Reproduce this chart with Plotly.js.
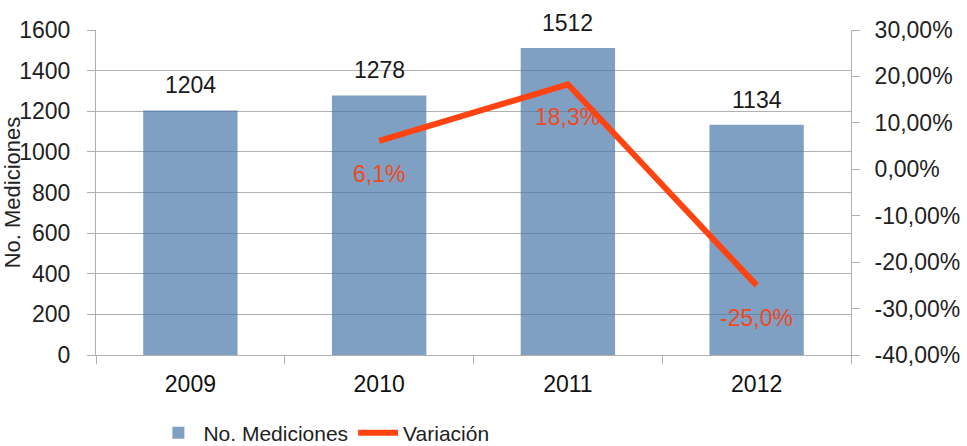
<!DOCTYPE html>
<html>
<head>
<meta charset="utf-8">
<script src="https://cdn.plot.ly/plotly-3.0.1.min.js"></script>
<style>html,body{margin:0;padding:0;background:#fff;}#chart{width:967px;height:446px;}</style>
</head>
<body>
<div id="chart"></div>
<script>
var years = ['2009', '2010', '2011', '2012'];
var mediciones = [1204, 1278, 1512, 1134];
var variacion = [null, 6.1, 18.3, -25.0];
var leftTicks = [0, 200, 400, 600, 800, 1000, 1200, 1400, 1600];
var rightTicks = [30, 20, 10, 0, -10, -20, -30, -40];
var rightTickText = ['30,00%', '20,00%', '10,00%', '0,00%', '-10,00%', '-20,00%', '-30,00%', '-40,00%'];

var FONT = 'Liberation Sans, Arial, sans-serif';

var barTrace = {
  type: 'bar',
  name: 'No. Mediciones',
  x: years,
  y: mediciones,
  marker: {color: 'rgba(72,118,169,0.7)', line: {width: 0}},
  hoverinfo: 'x+y'
};
var lineTrace = {
  type: 'scatter',
  mode: 'lines',
  name: 'Variación',
  x: years,
  y: variacion,
  yaxis: 'y2',
  line: {color: '#FF4412', width: 6},
  connectgaps: false
};

var annotations = [];
years.forEach(function (yr, i) {
  annotations.push({
    x: i, y: mediciones[i], xref: 'x', yref: 'y',
    text: String(mediciones[i]), showarrow: false,
    yanchor: 'middle', yshift: 25,
    font: {family: FONT, size: 23, color: '#1a1a1a'}
  });
  if (variacion[i] !== null) {
    annotations.push({
      x: i, y: variacion[i], xref: 'x', yref: 'y2',
      text: variacion[i].toFixed(1).replace('.', ',') + '%', showarrow: false,
      yanchor: 'middle', yshift: -33,
      font: {family: FONT, size: 23, color: '#F04A1C'}
    });
  }
});

var layout = {
  width: 967, height: 446,
  margin: {l: 96, r: 116, t: 30, b: 91, autoexpand: false},
  paper_bgcolor: '#fff', plot_bgcolor: '#fff',
  font: {family: FONT, size: 22, color: '#222'},
  bargap: 0.5,
  showlegend: true,
  legend: {orientation: 'h', x: 0.076, xanchor: 'left', y: -0.24, yanchor: 'middle',
           font: {family: FONT, size: 21, color: '#222'}, itemwidth: 40, tracegroupgap: 0},
  xaxis: {
    type: 'category', categoryarray: years, range: [-0.5, years.length - 0.5], autorange: false,
    automargin: false,
    tickson: 'boundaries', ticks: 'outside', ticklen: 8, tickcolor: '#b0b0b0',
    showline: true, linecolor: '#b0b0b0', linewidth: 1, showgrid: false, zeroline: false,
    tickfont: {family: FONT, size: 23, color: '#111'}, ticklabelstandoff: 8, tickangle: 0
  },
  yaxis: {
    range: [0, 1600], autorange: false, automargin: false, tickvals: leftTicks, ticks: 'outside', ticklen: 8, tickcolor: '#b0b0b0',
    showline: true, linecolor: '#b0b0b0', showgrid: true, gridcolor: '#b0b0b0', gridwidth: 1,
    zeroline: false, tickfont: {family: FONT, size: 23, color: '#222'}, ticklabelstandoff: 12,
    title: {text: 'No. Mediciones', font: {family: FONT, size: 22, color: '#222'}, standoff: 0}
  },
  yaxis2: {
    overlaying: 'y', side: 'right', range: [-40, 30], autorange: false, automargin: false,
    tickvals: rightTicks, ticktext: rightTickText,
    ticks: 'outside', ticklen: 8, tickcolor: '#b0b0b0', showline: true, linecolor: '#b0b0b0',
    showgrid: false, zeroline: false, tickfont: {family: FONT, size: 23, color: '#222'},
    ticklabelstandoff: 10
  },
  annotations: annotations
};

Plotly.newPlot('chart', [barTrace, lineTrace], layout, {displayModeBar: false, staticPlot: true});
</script>
</body>
</html>
